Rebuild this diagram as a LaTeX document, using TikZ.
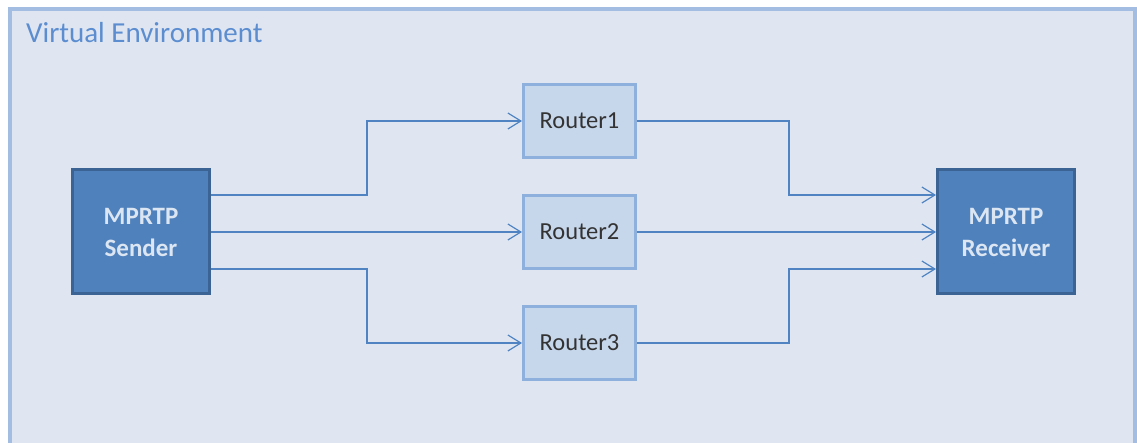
\documentclass[tikz,border=0pt]{standalone}
\usepackage{fontspec}
\setmainfont{Carlito}
\usetikzlibrary{positioning, arrows.meta}

\definecolor{envfill}{HTML}{DFE6F1}
\definecolor{envline}{HTML}{A3BCE2}
\definecolor{envtext}{HTML}{5B8DD0}
\definecolor{hostfill}{HTML}{4F81BD}
\definecolor{hostline}{HTML}{3B6495}
\definecolor{hosttext}{HTML}{DCE6F2}
\definecolor{routerfill}{HTML}{C6D6EB}
\definecolor{routerline}{HTML}{8DB0DC}
\definecolor{wire}{HTML}{4F83C2}

\begin{document}
\begin{tikzpicture}[
    x=1pt, y=1pt,
    host/.style={draw=hostline,fill=hostfill,line width=3pt,minimum width=137pt,minimum height=124pt,
      inner sep=0pt,align=center,text=hosttext,font=\fontsize{25}{32}\selectfont\bfseries},
    router/.style={draw=routerline,fill=routerfill,line width=3pt,minimum width=112pt,minimum height=73pt,
      inner sep=0pt,text=black!80,font=\fontsize{24.5}{28}\selectfont},
    link/.style={draw=wire,line width=1.2pt,-{Straight Barb[length=13pt,width=16pt]}}
  ]
  \useasboundingbox (0,0) rectangle (1137,443);
  % environment frame, open at the bottom
  \draw[envline,fill=envfill,line width=4pt] (10,-20) rectangle (1135,434);
  \node[anchor=base west,inner sep=0pt,text=envtext,font=\fontsize{29}{34}\selectfont] (title) at (26,400) {Virtual Environment};

  % end points
  \node[host] (sender) at (141,211) {MPRTP\\Sender};
  \node[host] (receiver) at (1006,211) {MPRTP\\Receiver};

  % the three paths
  \node[router] (r1) at (579.5,322) {Router1};
  \node[router] (r2) at (579.5,211) {Router2};
  \node[router] (r3) at (579.5,100) {Router3};

  \draw[link] ([yshift=37pt]sender.east) -- ++(156,0) |- (r1);
  \draw[link] (sender) -- (r2);
  \draw[link] ([yshift=-37pt]sender.east) -- ++(156,0) |- (r3);

  \draw[link] (r1.east) -- ++(152,0) |- ([yshift=37pt]receiver.west);
  \draw[link] (r2) -- (receiver);
  \draw[link] (r3.east) -- ++(152,0) |- ([yshift=-37pt]receiver.west);
\end{tikzpicture}
\end{document}
